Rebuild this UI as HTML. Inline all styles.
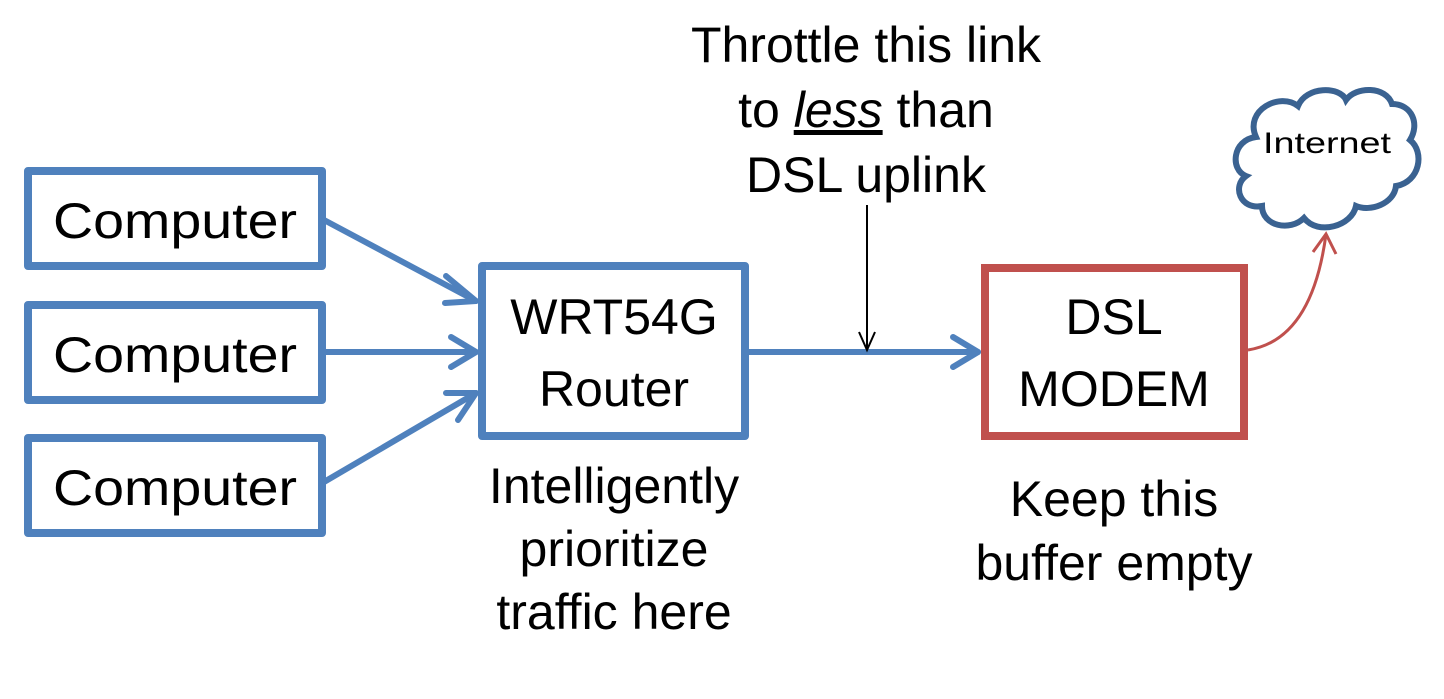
<!DOCTYPE html>
<html><head><style>
html,body{margin:0;padding:0;background:#fff;}
svg text{font-family:"Liberation Sans",sans-serif;fill:#000;}
</style></head><body>
<svg width="1444" height="694" viewBox="0 0 1444 694" xmlns="http://www.w3.org/2000/svg">
<g fill="none" stroke="#4F81BD" stroke-width="8" stroke-linejoin="round">
<rect x="28" y="171" width="294" height="95"/>
<rect x="28" y="305" width="294" height="95"/>
<rect x="28" y="438" width="294" height="95"/>
<rect x="482" y="266" width="263" height="170"/>
</g>
<rect x="985" y="268" width="259" height="168" fill="none" stroke="#C0504D" stroke-width="8"/>
<g stroke="#4F81BD" stroke-width="6" fill="none" stroke-linecap="round" stroke-linejoin="round">
<line x1="324" y1="220" x2="476" y2="301"/>
<polyline points="446,276 476,301 445,303"/>
<line x1="324" y1="352" x2="476" y2="352"/>
<polyline points="451,337 476,352 451,367"/>
<line x1="324" y1="482" x2="476" y2="393"/>
<polyline points="446,393 476,393 458,420"/>
<line x1="748" y1="352" x2="978" y2="352"/>
<polyline points="953,337 978,352 953,367"/>
</g>
<line x1="867" y1="205" x2="867" y2="350" stroke="#000" stroke-width="2"/>
<polyline points="859,332 867,350 875,332" fill="none" stroke="#000" stroke-width="2"/>
<path d="M1248,350 Q1312,340 1326,234" fill="none" stroke="#C0504D" stroke-width="3"/>
<polyline points="1313,252 1326,234 1336,254" fill="none" stroke="#C0504D" stroke-width="3"/>
<path d="M1256,137 C1244,110 1280,92 1298,106 C1306,86 1340,86 1346,100 C1356,86 1386,86 1392,104 C1412,104 1420,124 1410,140 C1425,152 1420,182 1396,186 C1394,204 1370,212 1356,206 C1352,226 1318,236 1304,218 C1290,232 1262,226 1262,206 C1240,210 1232,186 1246,176 C1230,170 1232,140 1256,137 Z" fill="#fff" stroke="#3A6291" stroke-width="6"/>
<text x="1263" y="153" font-size="30" textLength="128" lengthAdjust="spacingAndGlyphs">Internet</text>
<g font-size="50" text-anchor="middle">
<text x="53" y="238" text-anchor="start" textLength="244" lengthAdjust="spacingAndGlyphs">Computer</text>
<text x="53" y="372" text-anchor="start" textLength="244" lengthAdjust="spacingAndGlyphs">Computer</text>
<text x="53" y="505" text-anchor="start" textLength="244" lengthAdjust="spacingAndGlyphs">Computer</text>
<text x="614" y="334">WRT54G</text>
<text x="614" y="406">Router</text>
<text x="1114" y="334">DSL</text>
<text x="1114" y="406">MODEM</text>
<text x="614" y="503">Intelligently</text>
<text x="614" y="566">prioritize</text>
<text x="614" y="629">traffic here</text>
<text x="1114" y="516">Keep this</text>
<text x="1114" y="580">buffer empty</text>
<text x="866" y="62">Throttle this link</text>
<text x="866" y="127">to <tspan font-style="italic" text-decoration="underline">less</tspan> than</text>
<text x="866" y="192">DSL uplink</text>
</g>
</svg>
</body></html>
